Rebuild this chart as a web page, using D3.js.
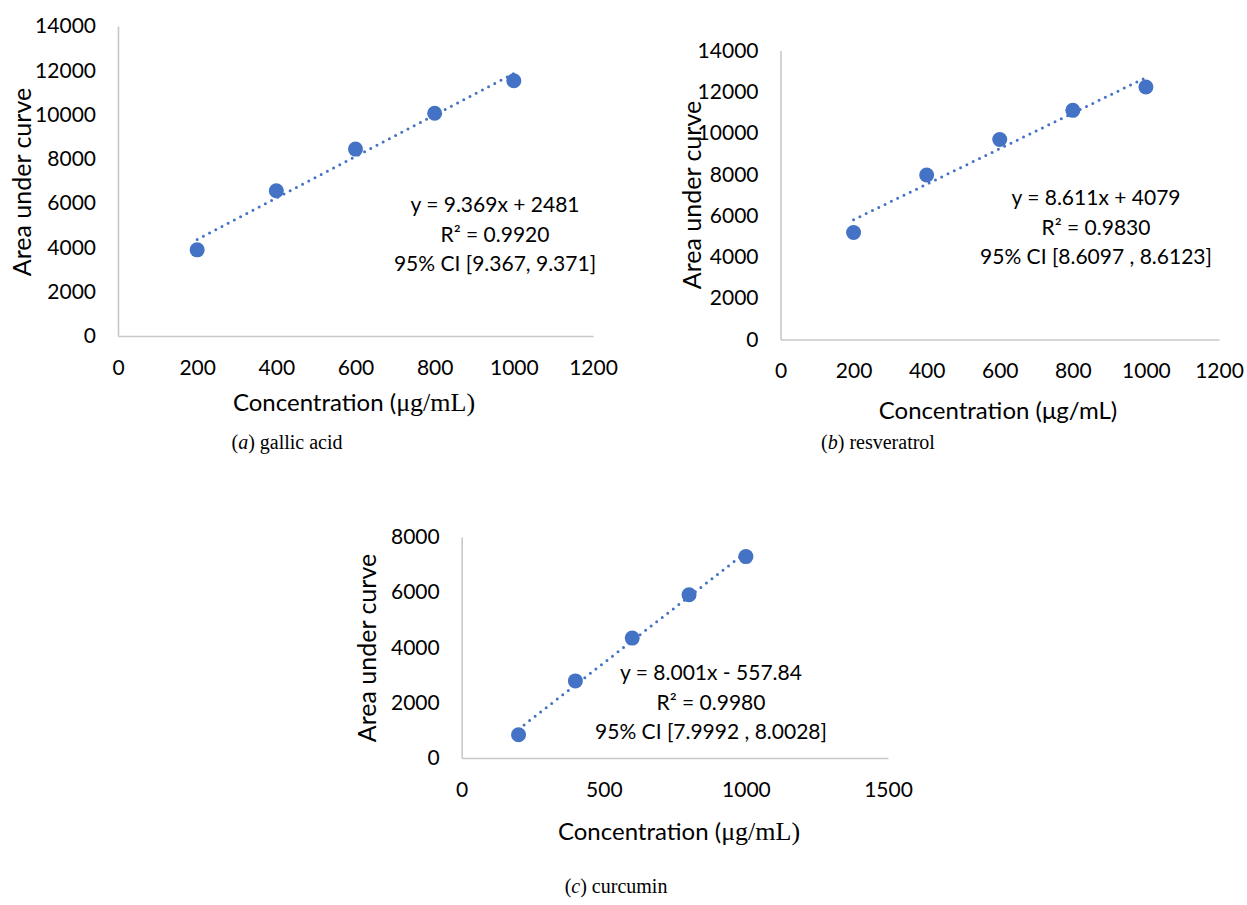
<!DOCTYPE html>
<html>
<head>
<meta charset="utf-8">
<script src="https://cdn.jsdelivr.net/npm/d3@7"></script>
<style>
  html, body { margin: 0; padding: 0; background: #fff; }
  svg { display: block; }
</style>
</head>
<body>
<div id="vis-display"></div>
<script>
// Calibration curves: area under curve vs concentration, three compounds.

const CONC = [200, 400, 600, 800, 1000];

const AUC_GALLIC      = [3890, 6560, 8440, 10060, 11530];
const AUC_RESVERATROL = [5180, 7970, 9690, 11100, 12230];
const AUC_CURCUMIN    = [840, 2790, 4340, 5910, 7290];

const SLOPES     = [9.369, 8.611, 8.001];
const INTERCEPTS = [2481, 4079, -557.84];

const EQ_LINES = [
  ["y = 9.369x + 2481", "R² = 0.9920", "95% CI [9.367, 9.371]"],
  ["y = 8.611x + 4079", "R² = 0.9830", "95% CI [8.6097 , 8.6123]"],
  ["y = 8.001x - 557.84", "R² = 0.9980", "95% CI [7.9992 , 8.0028]"],
];

const X_TICKS = [
  [0, 200, 400, 600, 800, 1000, 1200],
  [0, 200, 400, 600, 800, 1000, 1200],
  [0, 500, 1000, 1500],
];
const Y_TICKS = [
  [0, 2000, 4000, 6000, 8000, 10000, 12000, 14000],
  [0, 2000, 4000, 6000, 8000, 10000, 12000, 14000],
  [0, 2000, 4000, 6000, 8000],
];

const CAPTION_LETTERS = ["a", "b", "c"];
const CAPTION_NAMES   = ["gallic acid", "resveratrol", "curcumin"];

const BLUE = "#4472C4";
const SANS = "Lato, 'Open Sans', sans-serif";
const SERIF = "'Liberation Serif', 'Times New Roman', serif";

// ── Layout (pixel frames for each panel) ────────────────────────────────────

const PANELS = [
  { data: AUC_GALLIC, xMax: 1200, yMax: 14000,
    x0: 118, x1: 593, y0: 336, y1: 26,
    yTitle: [22, 182], xTitle: [354, 411], serifUnit: true,
    eq: [495, 205], caption: [287, 449] },
  { data: AUC_RESVERATROL, xMax: 1200, yMax: 14000,
    x0: 780.5, x1: 1219, y0: 339.5, y1: 50.5,
    yTitle: [692, 195], xTitle: [998, 419], serifUnit: false,
    eq: [1096, 198], caption: [878, 449] },
  { data: AUC_CURCUMIN, xMax: 1500, yMax: 8000,
    x0: 461.7, x1: 888, y0: 758, y1: 537,
    yTitle: [367, 648], xTitle: [679, 840], serifUnit: true,
    eq: [711, 673], caption: [616, 893] },
];

const svg = d3.select("#vis-display").append("svg")
  .attr("width", 1247)
  .attr("height", 905);

PANELS.forEach((p, i) => drawPanel(p, i));

function drawPanel(p, i) {
  const g = svg.append("g");

  const x = d3.scaleLinear().domain([0, p.xMax]).range([p.x0, p.x1]);
  const y = d3.scaleLinear().domain([0, p.yMax]).range([p.y0, p.y1]);

  // ── Axes ──────────────────────────────────────────────────────────────────
  g.append("g")
    .attr("transform", `translate(0,${p.y0})`)
    .call(d3.axisBottom(x).tickValues(X_TICKS[i]).tickSize(0).tickPadding(24).tickFormat(d3.format("d")))
    .call(ax => ax.select(".domain").attr("stroke", "#c8c8c8").attr("stroke-width", 1.6))
    .selectAll("text")
      .style("font-family", SANS)
      .style("font-size", "21px")
      .style("fill", "#000");

  g.append("g")
    .attr("transform", `translate(${p.x0},0)`)
    .call(d3.axisLeft(y).tickValues(Y_TICKS[i]).tickSize(0).tickPadding(22).tickFormat(d3.format("d")))
    .call(ax => ax.select(".domain").attr("stroke", "#c8c8c8").attr("stroke-width", 1.6))
    .selectAll("text")
      .style("font-family", SANS)
      .style("font-size", "21px")
      .style("fill", "#000");

  // ── Axis titles ───────────────────────────────────────────────────────────
  g.append("text")
    .attr("transform", `translate(${p.yTitle[0]},${p.yTitle[1]}) rotate(-90)`)
    .attr("text-anchor", "middle")
    .attr("dy", "0.35em")
    .style("font-family", SANS)
    .style("font-size", "25px")
    .text("Area under curve");

  const xt = g.append("text")
    .attr("x", p.xTitle[0])
    .attr("y", p.xTitle[1])
    .attr("text-anchor", "middle")
    .style("font-family", SANS)
    .style("font-size", "24px");
  xt.append("tspan").text("Concentration (");
  xt.append("tspan")
    .style("font-family", p.serifUnit ? SERIF : SANS)
    .style("font-size", p.serifUnit ? "26px" : "24px")
    .text("μg/mL)");

  // ── Trendline ─────────────────────────────────────────────────────────────
  const xs = d3.extent(CONC);
  g.append("line")
    .attr("x1", x(xs[0])).attr("y1", y(SLOPES[i] * xs[0] + INTERCEPTS[i]))
    .attr("x2", x(xs[1])).attr("y2", y(SLOPES[i] * xs[1] + INTERCEPTS[i]))
    .attr("stroke", BLUE)
    .attr("stroke-width", 3)
    .attr("stroke-linecap", "round")
    .attr("stroke-dasharray", "0 7");

  // ── Points ────────────────────────────────────────────────────────────────
  g.append("g")
    .selectAll("circle")
    .data(CONC.map((c, k) => [c, p.data[k]]))
    .join("circle")
      .attr("cx", d => x(d[0]))
      .attr("cy", d => y(d[1]))
      .attr("r", 7.5)
      .attr("fill", BLUE);

  // ── Equation label ────────────────────────────────────────────────────────
  EQ_LINES[i].forEach((line, k) => {
    g.append("text")
      .attr("x", p.eq[0])
      .attr("y", p.eq[1] + k * 29.5)
      .attr("dy", "0.35em")
      .attr("text-anchor", "middle")
      .style("font-family", SANS)
      .style("font-size", "21px")
      .text(line);
  });

  // ── Caption ───────────────────────────────────────────────────────────────
  const cap = svg.append("text")
    .attr("x", p.caption[0])
    .attr("y", p.caption[1])
    .attr("text-anchor", "middle")
    .style("font-family", SERIF)
    .style("font-size", "20px");
  cap.append("tspan").text("(");
  cap.append("tspan").style("font-style", "italic").text(CAPTION_LETTERS[i]);
  cap.append("tspan").text(") " + CAPTION_NAMES[i]);
}
</script>
</body>
</html>
